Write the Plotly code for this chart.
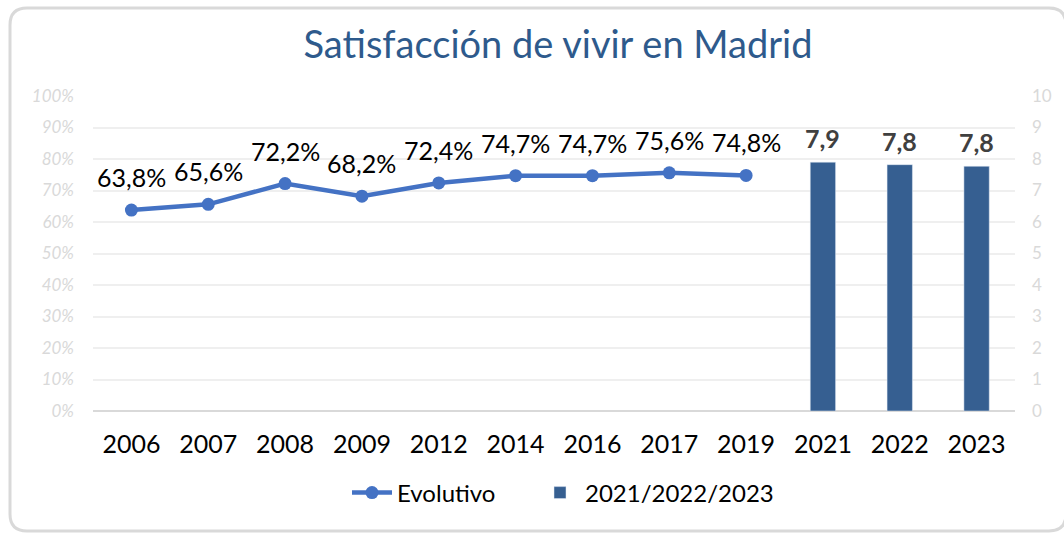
import plotly.graph_objects as go

years = ["2006", "2007", "2008", "2009", "2012", "2014", "2016", "2017", "2019", "2021", "2022", "2023"]
line_years = ["2006", "2007", "2008", "2009", "2012", "2014", "2016", "2017", "2019"]
line_values = [0.638, 0.656, 0.722, 0.682, 0.724, 0.747, 0.747, 0.756, 0.748]
bar_years = ["2021", "2022", "2023"]
bar_values = [7.9, 7.82, 7.77]
bar_labels = ["7,9", "7,8", "7,8"]

W, H = 1064, 534
# plot area in page pixels: x 93..1015, y 96..411
L, R, T, B = 93, 1064 - 1015, 96, 534 - 411
FONT = "Lato"

fig = go.Figure()
fig.add_trace(go.Scatter(
    x=line_years, y=line_values, name="Evolutivo", mode="lines+markers",
    line=dict(color="#4472C4", width=4.5), marker=dict(size=13, color="#4472C4"),
    yaxis="y", legend="legend",
))
fig.add_trace(go.Bar(
    x=bar_years, y=bar_values, name="2021/2022/2023", marker_color="#365F91",
    width=0.33, yaxis="y2", legend="legend2",
))

for xv, yv in zip(line_years, line_values):
    fig.add_annotation(x=years.index(xv), y=yv, xref="x", yref="y",
                       text=f"{yv*100:.1f}%".replace(".", ","),
                       showarrow=False, yanchor="bottom", yshift=16,
                       font=dict(size=25, color="#000000", family=FONT))
for xv, yv, lab in zip(bar_years, bar_values, bar_labels):
    fig.add_annotation(x=years.index(xv), y=yv, xref="x", yref="y2", text=lab, showarrow=False,
                       yanchor="bottom", yshift=7,
                       font=dict(size=25, color="#404040", family=FONT, weight="bold"))

# rounded border (paper coords relative to plot domain), page pixels in
pw, ph = W - L - R, H - T - B
def px(x):
    return (x - L) / pw
def py(y):
    return (H - B - y) / ph
x0, x1, y0, y1, r = 10, 1066, 8, 531, 17
path = (f"M {px(x0+r)},{py(y0)} L {px(x1-r)},{py(y0)} Q {px(x1)},{py(y0)} {px(x1)},{py(y0+r)} "
        f"L {px(x1)},{py(y1-r)} Q {px(x1)},{py(y1)} {px(x1-r)},{py(y1)} "
        f"L {px(x0+r)},{py(y1)} Q {px(x0)},{py(y1)} {px(x0)},{py(y1-r)} "
        f"L {px(x0)},{py(y0+r)} Q {px(x0)},{py(y0)} {px(x0+r)},{py(y0)} Z")
fig.add_shape(type="path", path=path, xref="paper", yref="paper",
              line=dict(color="#d9d9d9", width=3), layer="below")

leg_common = dict(orientation="h", yanchor="middle", y=py(493),
                  font=dict(size=24, color="#000000", family=FONT), itemwidth=40,
                  bgcolor="rgba(0,0,0,0)")

fig.update_layout(
    width=W, height=H,
    margin=dict(l=L, r=R, t=T, b=B, autoexpand=False),
    paper_bgcolor="white", plot_bgcolor="white",
    separators=",.",
    font=dict(family=FONT),
    title=dict(text="Satisfacción de vivir en Madrid", x=558 / W, xanchor="center",
               y=1 - 45 / H, yanchor="middle",
               font=dict(size=38, color="#2E5A8C", family=FONT)),
    xaxis=dict(type="category", categoryorder="array", categoryarray=years,
               range=[-0.5, len(years) - 0.5],
               tickfont=dict(size=25, color="#000000", family=FONT),
               showgrid=False, showline=False, ticks="", ticklabelstandoff=16,
               automargin=False),
    yaxis=dict(range=[0, 1], tickformat=".0%", tickvals=[i / 10 for i in range(11)],
               tickfont=dict(size=17, color="#d9d9d9", family=FONT, style="italic"),
               showgrid=True, gridcolor="#efefef", gridwidth=1.5,
               zeroline=True, zerolinecolor="#d9d9d9", zerolinewidth=1.5,
               ticklabelstandoff=18, automargin=False),
    yaxis2=dict(range=[0, 10], overlaying="y", side="right", tickvals=list(range(11)),
                tickfont=dict(size=17, color="#d9d9d9", family=FONT),
                showgrid=False, zeroline=False, ticklabelstandoff=16, automargin=False),
    legend=dict(x=px(347), xanchor="left", **leg_common),
    legend2=dict(x=px(535), xanchor="left", **leg_common),
    showlegend=True,
)

fig.write_html(
    "out.html",
    config={"displayModeBar": False},
    post_script="document.body.style.margin='0';document.body.style.overflow='hidden';",
)
